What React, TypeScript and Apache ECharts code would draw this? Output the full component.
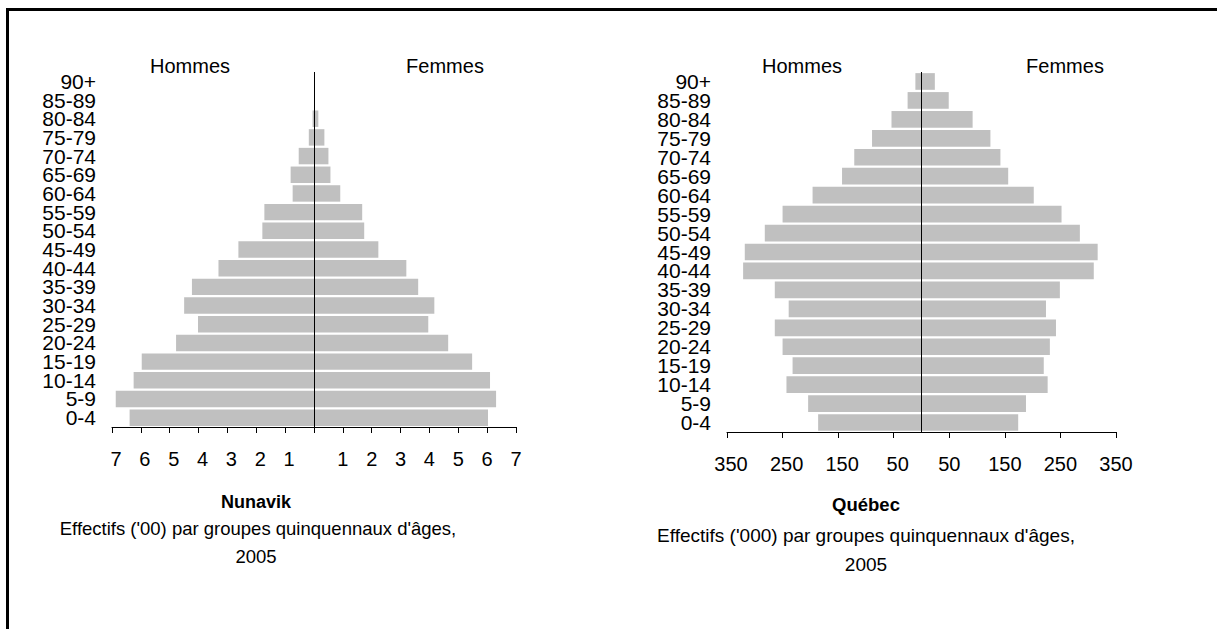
import React, { useEffect, useRef } from "react";
import * as echarts from "echarts";

const categories = ["0-4", "5-9", "10-14", "15-19", "20-24", "25-29", "30-34", "35-39", "40-44", "45-49", "50-54", "55-59", "60-64", "65-69", "70-74", "75-79", "80-84", "85-89", "90+"];

const nunavikMen = [6.39, 6.87, 6.25, 5.97, 4.78, 4.02, 4.5, 4.23, 3.31, 2.62, 1.79, 1.72, 0.74, 0.81, 0.53, 0.18, 0.05, 0, 0];
const nunavikWomen = [6.03, 6.31, 6.1, 5.48, 4.65, 3.96, 4.17, 3.61, 3.2, 2.23, 1.74, 1.67, 0.91, 0.57, 0.5, 0.36, 0.15, 0, 0];

const quebecMen = [186, 204, 243, 232, 250, 264, 239, 264, 321, 318, 282, 250, 196, 143, 121, 89, 54, 25, 11];
const quebecWomen = [174, 188, 227, 220, 231, 242, 224, 249, 310, 317, 285, 252, 202, 156, 142, 124, 92, 49, 24];

const sexLabels = ["Hommes", "Femmes"];
const titles = ["Nunavik", "Québec"];
const subtitles = ["Effectifs ('00) par groupes quinquennaux d'âges,", "Effectifs ('000) par groupes quinquennaux d'âges,"];
const yearLabel = "2005";

const FONT = "Liberation Sans, Arial, sans-serif";
const BAR = "#c0c0c0";

export default function App() {
  const ref = useRef<HTMLDivElement>(null);
  useEffect(() => {
    if (!ref.current) return;
    const chart = echarts.init(ref.current, null, { renderer: "svg" });

    const tickFormatter = (v: number) => (v === 0 ? "" : v < 0 ? `{n|${Math.abs(v)}}` : String(v));

    const xAxisCommon = {
      type: "value",
      axisLine: { show: true, onZero: false, lineStyle: { color: "#000", width: 1 } },
      axisTick: { show: true, inside: false, length: 6, lineStyle: { color: "#000", width: 1 } },
      splitLine: { show: false },
      axisLabel: {
        color: "#000",
        fontSize: 20,
        fontFamily: FONT,
        margin: 22,
        formatter: tickFormatter,
        rich: { n: { color: "#000", fontSize: 20, fontFamily: FONT, padding: [0, 0, 0, 8] } },
      },
    };
    const yAxisCommon = {
      type: "category",
      data: categories,
      axisLine: { show: false, onZero: false },
      axisTick: { show: false },
      splitLine: { show: false },
      axisLabel: { color: "#000", fontSize: 21, lineHeight: 18, fontFamily: FONT, margin: 16, interval: 0 },
    };

    const barCommon = {
      type: "bar",
      barGap: "-100%",
      barCategoryGap: "12%",
      itemStyle: { color: BAR },
      silent: true,
    };
    const centerLine = {
      silent: true,
      symbol: ["none", "none"],
      label: { show: false },
      lineStyle: { color: "#000", width: 1, type: "solid" },
      data: [{ xAxis: 0 }],
    };

    const option = {
      animation: false,
      backgroundColor: "#fff",
      grid: [
        { left: 112, top: 72, width: 404, height: 355 },
        { left: 727, top: 72, width: 389, height: 360 },
      ],
      xAxis: [
        { ...xAxisCommon, gridIndex: 0, min: -7, max: 7, interval: 1 },
        { ...xAxisCommon, gridIndex: 1, min: -350, max: 350, interval: 100 },
      ],
      yAxis: [
        { ...yAxisCommon, gridIndex: 0 },
        { ...yAxisCommon, gridIndex: 1 },
      ],
      series: [
        { ...barCommon, name: "Hommes Nunavik", xAxisIndex: 0, yAxisIndex: 0, data: nunavikMen.map((v) => -v), markLine: centerLine },
        { ...barCommon, name: "Femmes Nunavik", xAxisIndex: 0, yAxisIndex: 0, data: nunavikWomen },
        { ...barCommon, name: "Hommes Québec", xAxisIndex: 1, yAxisIndex: 1, data: quebecMen.map((v) => -v), markLine: centerLine },
        { ...barCommon, name: "Femmes Québec", xAxisIndex: 1, yAxisIndex: 1, data: quebecWomen },
      ],
      graphic: [
        {
          type: "rect",
          shape: { x: 7.5, y: 9.5, width: 1400, height: 800 },
          style: { fill: "none", stroke: "#000", lineWidth: 3 },
          silent: true,
        },
        { type: "text", x: 190, y: 66, style: { text: sexLabels[0], fill: "#000", font: `20px ${FONT}`, align: "center", verticalAlign: "middle" } },
        { type: "text", x: 445, y: 66, style: { text: sexLabels[1], fill: "#000", font: `20px ${FONT}`, align: "center", verticalAlign: "middle" } },
        { type: "text", x: 802, y: 66, style: { text: sexLabels[0], fill: "#000", font: `20px ${FONT}`, align: "center", verticalAlign: "middle" } },
        { type: "text", x: 1065, y: 66, style: { text: sexLabels[1], fill: "#000", font: `20px ${FONT}`, align: "center", verticalAlign: "middle" } },

        { type: "text", x: 256, y: 502, style: { text: titles[0], fill: "#000", font: `bold 18px ${FONT}`, align: "center", verticalAlign: "middle" } },
        { type: "text", x: 258, y: 528, style: { text: subtitles[0], fill: "#000", font: `18.5px ${FONT}`, align: "center", verticalAlign: "middle" } },
        { type: "text", x: 256, y: 556, style: { text: yearLabel, fill: "#000", font: `18.5px ${FONT}`, align: "center", verticalAlign: "middle" } },

        { type: "text", x: 866, y: 504, style: { text: titles[1], fill: "#000", font: `bold 18.5px ${FONT}`, align: "center", verticalAlign: "middle" } },
        { type: "text", x: 866, y: 535, style: { text: subtitles[1], fill: "#000", font: `19px ${FONT}`, align: "center", verticalAlign: "middle" } },
        { type: "text", x: 866, y: 564, style: { text: yearLabel, fill: "#000", font: `19px ${FONT}`, align: "center", verticalAlign: "middle" } },
      ],
    };

    chart.setOption(option as any);
    return () => chart.dispose();
  }, []);

  return (
    <div
      ref={ref}
      style={{ position: "fixed", left: 0, top: 0, width: 1217, height: 629, background: "#fff" }}
    />
  );
}
